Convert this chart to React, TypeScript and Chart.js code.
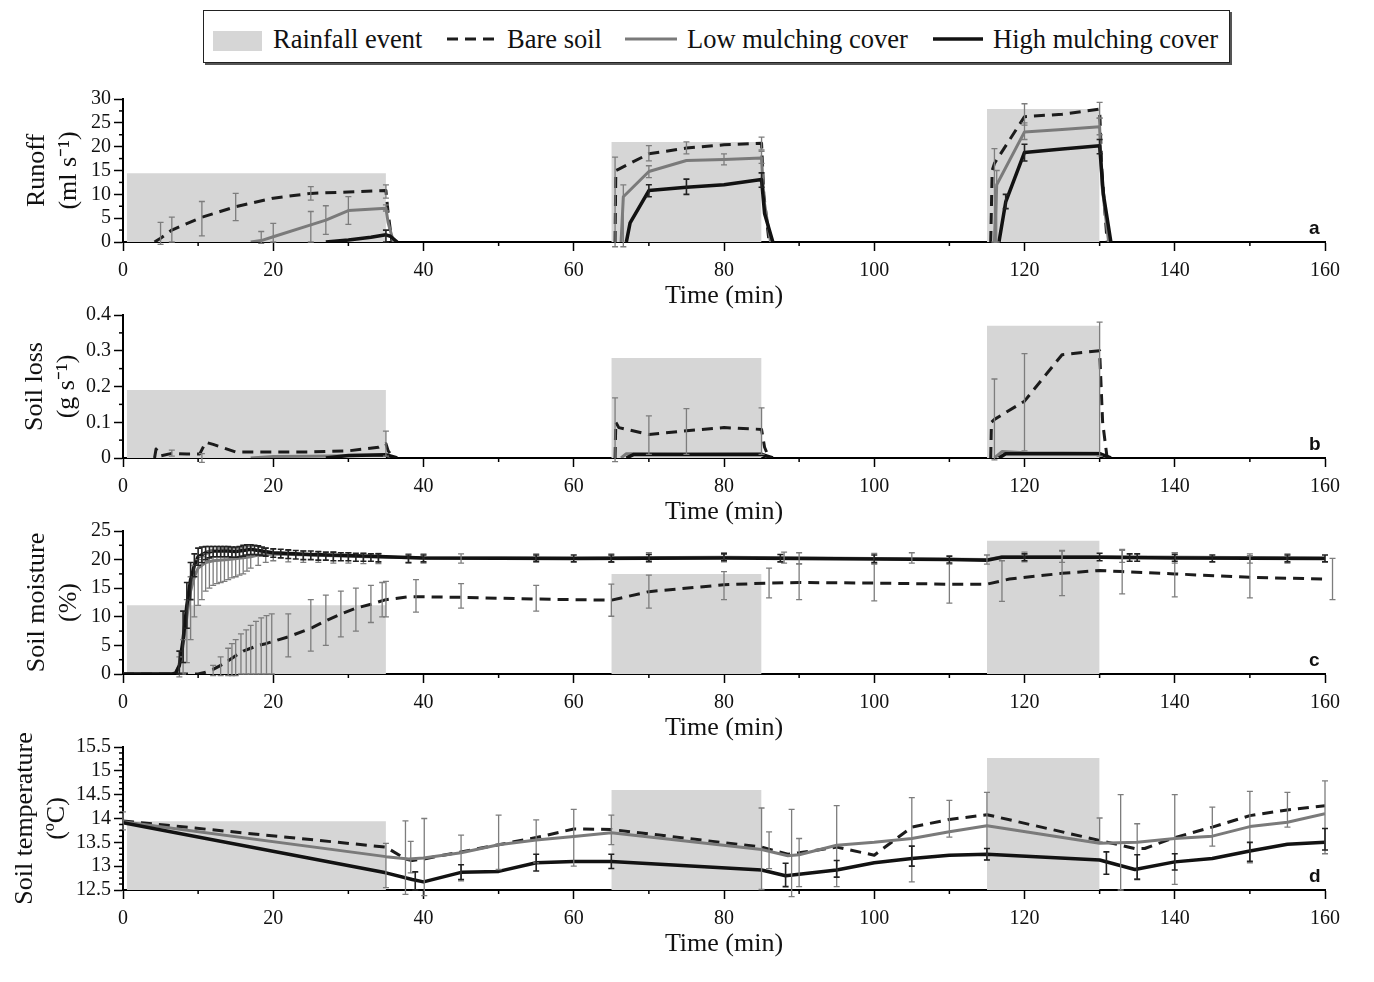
import React, { useEffect, useRef } from "react";
import { Chart, registerables } from "chart.js";
Chart.register(...registerables);

const SERIF = "'Liberation Serif', 'Times New Roman', serif";
const SANS = "'Liberation Sans', Arial, sans-serif";

type Pt = [number, number] | null;
type Err = [number, number, number];

// ---------------- rainfall events ----------------
const rainStart = [0.5, 65, 115];
const rainEnd = [35, 85, 130];
const rainTopRunoff = [14.4, 21.0, 27.9];
const rainTopLoss = [0.19, 0.28, 0.37];
const rainTopMoisture = [12.0, 17.5, 23.3];
const rainTopTemp = [13.94, 14.6, 15.27];

// ---------------- x axis ----------------
const timeMin = 0;
const timeMax = 160;
const timeStep = 10;
const timeLabelEvery = 20;

// ---------------- (a) runoff ----------------
const runoffBare: Pt[] = [
  [4.2, 0], [5, 0.8], [6.5, 2.5], [10.5, 5.2], [15, 7.4], [20, 9.2], [25, 10.2], [30, 10.5], [35, 10.8], [35.3, 6], [35.8, 0], null,
  [65.5, 0], [65.6, 15], [66, 15.3], [70, 18.5], [75, 19.7], [80, 20.4], [85, 20.7], [85.3, 10], [86, 0], null,
  [115.5, 0], [115.7, 15], [116, 16.5], [120, 26.3], [125, 26.8], [130, 27.9], [130.3, 15], [131, 0],
];
const runoffLow: Pt[] = [
  [17, 0], [18.4, 0.3], [20, 1.1], [25, 3.6], [27, 4.6], [30, 6.6], [35, 7.1], [35.3, 4], [36, 0], null,
  [66.3, 0], [66.6, 9.5], [70, 14.8], [75, 17.1], [80, 17.3], [85, 17.6], [85.3, 9], [86.2, 0], null,
  [116, 0], [116.3, 12], [120, 23.1], [125, 23.6], [130, 24.2], [130.3, 12], [131.2, 0],
];
const runoffHigh: Pt[] = [
  [27, 0], [30, 0.4], [33, 1], [35, 1.5], [35.6, 1.2], [36.5, 0], null,
  [67, 0], [67.5, 4], [70, 10.8], [75, 11.5], [80, 12], [85, 13.1], [85.4, 6], [86.5, 0], null,
  [116.6, 0], [117.5, 8.4], [120, 18.8], [125, 19.5], [130, 20.2], [130.5, 10], [131.5, 0],
];
const runoffBareErr: Err[] = [
  [5, -0.5, 4.1], [6.5, 0, 5.2], [10.5, 1.3, 8.5], [15, 4.5, 10.2], [25, 8.8, 11.6], [35, 9.2, 12],
  [65.5, -1, 17.8], [70, 17, 20.2], [75, 18.5, 21], [85, 19.3, 22],
  [116, 0, 19.6], [120, 24.5, 29], [130, 26, 29.3],
];
const runoffLowErr: Err[] = [
  [18.4, -0.3, 2.2], [20, 0, 3.9], [25, 0, 6.4], [27, 1.6, 7.6], [30, 3.7, 9.5], [35, 6.5, 7.8],
  [66.6, -1, 12], [70, 13.5, 16], [80, 16.2, 18.5], [85, 16.5, 19],
  [116.3, 0, 15], [120, 21.5, 25], [130, 22.5, 26],
];
const runoffHighErr: Err[] = [
  [35, 0, 2.5], [70, 9.5, 12], [75, 10, 13.2], [85, 11.5, 14.5], [117.5, 7, 10], [120, 17, 20.5], [130, 18.5, 21.5],
];
const runoffTicks = { min: 0, max: 30, step: 2.5, labelEvery: 5 };

// ---------------- (b) soil loss ----------------
const lossBare: Pt[] = [
  [4.2, 0], [4.4, 0.025], [5, 0.006], [6.5, 0.013], [8.5, 0.011], [10.2, 0.011], [11, 0.044], [12, 0.038], [15, 0.017],
  [20, 0.017], [25, 0.017], [30, 0.02], [34, 0.03], [35, 0.04], [35.3, 0.02], [36, 0], null,
  [65.5, 0], [65.6, 0.1], [66, 0.085], [70, 0.066], [75, 0.076], [80, 0.085], [85, 0.08], [85.4, 0.03], [86, 0], null,
  [115.5, 0], [115.6, 0.1], [116, 0.108], [120, 0.159], [125, 0.289], [130, 0.3], [130.4, 0.1], [131, 0],
];
const lossLow: Pt[] = [
  [17, 0], [20, 0.004], [25, 0.005], [30, 0.006], [35, 0.008], [36, 0], null,
  [66.3, 0], [67, 0.012], [75, 0.011], [85, 0.012], [86, 0], null,
  [116, 0], [117, 0.018], [120, 0.015], [130, 0.013], [131, 0],
];
const lossHigh: Pt[] = [
  [27, 0], [30, 0.007], [35, 0.009], [36.5, 0], null,
  [67, 0], [68, 0.01], [75, 0.01], [85, 0.01], [86.5, 0], null,
  [116.6, 0], [117.5, 0.012], [125, 0.012], [130, 0.012], [131.5, 0],
];
const lossBareErr: Err[] = [
  [6.5, 0.005, 0.022], [10.5, -0.012, 0.012], [35, 0.005, 0.075],
  [65.5, -0.01, 0.168], [70, 0.01, 0.118], [75, 0.01, 0.138], [85, 0.01, 0.14],
  [116, -0.005, 0.221], [120, 0.02, 0.292], [130, 0.005, 0.38],
];
const lossLowErr: Err[] = [];
const lossHighErr: Err[] = [];
const lossTicks = { min: 0, max: 0.4, step: 0.05, labelEvery: 0.1 };

// ---------------- (c) soil moisture ----------------
const moistBare: Pt[] = [
  [0, 0], [10, 0], [11, 0.3], [12, 0.8], [13, 1.5], [14, 2.3], [15, 3.2], [16, 4], [17, 4.5], [18, 5], [19, 5.3],
  [20, 5.7], [22, 6.5], [25, 8], [27, 9.3], [29, 10.5], [31, 11.5], [33, 12.2], [35, 13], [38, 13.5], [40, 13.5],
  [45, 13.4], [55, 13.1], [65, 12.9], [70, 14.4], [80, 15.6], [86, 15.9], [90, 16], [100, 15.9], [110, 15.7],
  [115, 15.7], [118, 16.6], [125, 17.6], [130, 18.1], [133, 17.9], [140, 17.5], [150, 16.9], [160, 16.6],
];
const moistLow: Pt[] = [
  [0, 0], [6.5, 0], [7, 0.3], [7.5, 1.5], [8, 5], [8.5, 10], [9, 14.5], [9.5, 17], [10, 18.5], [11, 19.5], [12, 19.8],
  [14, 20], [16, 20.3], [17, 20.5], [18, 20.8], [20, 21], [25, 20.8], [30, 20.6], [35, 20.4], [40, 20.3], [60, 20.3],
  [80, 20.4], [100, 20.2], [115, 20.0], [117, 20.5], [130, 20.5], [160, 20.3],
];
const moistHigh: Pt[] = [
  [0, 0], [6.5, 0], [7, 0.1], [7.5, 1.5], [8, 6], [8.5, 12], [9, 16.5], [9.5, 19], [10, 20.5], [11, 21.2], [12, 21.5],
  [14, 21.5], [15, 21.4], [16, 21.6], [17, 21.8], [18, 21.6], [20, 21.2], [25, 20.9], [30, 20.7], [35, 20.5], [40, 20.3],
  [60, 20.2], [80, 20.3], [100, 20.1], [110, 20], [115, 19.9], [117, 20.4], [130, 20.4], [140, 20.3], [160, 20.2],
];
const moistBareErr: Err[] = [
  [12, -0.3, 1.5], [13, -0.3, 3], [14, -0.3, 4.5], [14.5, -0.3, 5.3], [15, -0.3, 6], [15.7, 0, 7], [16.4, 0, 7.7],
  [17, 0, 8.5], [17.7, 0, 9.2], [18.4, 0, 9.8], [19.1, 0, 10.2], [19.8, 0, 10.5], [22, 3, 10.5], [25, 4, 13],
  [27, 5, 13.8], [29, 6.5, 14.5], [31, 7.5, 15], [33, 9, 15.5], [34.5, 10, 16], [35, 10, 16.2], [39, 10.8, 16.5],
  [45, 11.5, 15.8], [55, 11, 15.5], [65, 10.1, 15.7], [70, 11.5, 17.3], [80, 13, 17.9], [86, 13.3, 18.5],
  [90, 13, 19.2], [100, 12.8, 19.2], [110, 12.4, 19.2], [117, 12.7, 19.8], [125, 13.7, 21.6], [133, 14, 21.8],
  [140, 13.5, 21.2], [150, 13.3, 20.7], [161, 13, 20.2],
];
const moistLowErr: Err[] = [
  [7.5, -0.5, 3], [8, 0, 6], [8.5, 2, 13], [9, 6, 17], [9.5, 10, 19], [10, 12, 20], [10.5, 13, 20.5], [11, 14.5, 21],
  [11.5, 15, 21.5], [12, 15.5, 21.8], [12.5, 15.8, 21.8], [13, 16, 22], [13.5, 16.2, 22], [14, 16.5, 22],
  [14.5, 16.8, 22], [15, 17, 22], [15.5, 17.3, 22], [16, 17.5, 22.2], [16.5, 18, 22.3], [17, 18.5, 22.3],
  [18, 19, 22.3], [19, 19.5, 22], [20, 19.8, 21.8], [22, 19.6, 21.6], [24, 19.5, 21.5], [26, 19.5, 21.4],
  [28, 19.4, 21.3], [30, 19.4, 21.2], [32, 19.3, 21.1], [34, 19.3, 21.1], [38, 19.4, 21], [40, 19.4, 21],
  [45, 19.4, 21], [55, 19.5, 21], [65, 19.5, 21], [70, 19.5, 21.2], [80, 19.6, 21.2], [88, 19.4, 21.3],
  [90, 19.3, 21.2], [100, 19.3, 21.1], [105, 19.4, 21.2], [115, 19.2, 20.8], [120, 19.6, 21.3], [125, 19.5, 21.5],
  [133, 19.5, 21.6], [140, 19.4, 21.2], [150, 19.4, 21], [155, 19.4, 21],
];
const moistHighErr: Err[] = [
  [7.5, 0, 4], [8, 2, 11], [8.5, 8, 16], [9, 13, 19.5], [9.5, 17, 21], [10, 19, 22], [10.5, 19.5, 22.2],
  [11, 20, 22.3], [11.5, 20.3, 22.3], [12, 20.5, 22.3], [12.5, 20.5, 22.3], [13, 20.5, 22.3], [13.5, 20.5, 22.3],
  [14, 20.5, 22.3], [14.5, 20.4, 22.2], [15, 20.4, 22.2], [15.5, 20.5, 22.3], [16, 20.6, 22.5], [16.5, 20.8, 22.6],
  [17, 20.9, 22.6], [17.5, 20.9, 22.5], [18, 20.8, 22.4], [18.5, 20.7, 22.2], [19, 20.6, 22], [20, 20.4, 21.9],
  [21, 20.3, 21.8], [22, 20.2, 21.7], [23, 20.1, 21.6], [24, 20, 21.5], [25, 20, 21.5], [26, 19.9, 21.4],
  [27, 19.9, 21.3], [28, 19.8, 21.3], [29, 19.8, 21.2], [30, 19.8, 21.2], [31, 19.7, 21.1], [32, 19.7, 21.1],
  [33, 19.7, 21], [34, 19.6, 21], [38, 19.5, 20.8], [40, 19.6, 20.8], [55, 19.7, 20.8], [60, 19.6, 20.8],
  [65, 19.6, 20.8], [70, 19.7, 20.9], [80, 19.8, 21], [87.5, 19.6, 20.9], [100, 19.5, 20.8], [110, 19.4, 20.6],
  [120, 19.8, 21], [130, 19.8, 21.1], [134, 19.7, 21], [135, 19.7, 21], [140, 19.7, 20.9], [145, 19.6, 20.8],
  [155, 19.6, 20.8], [160, 19.6, 20.8],
];
const moistTicks = { min: 0, max: 25, step: 2.5, labelEvery: 5 };

// ---------------- (d) soil temperature ----------------
const tempBare: Pt[] = [
  [0, 13.95], [35, 13.4], [37.6, 13.15], [38.5, 13.12], [40, 13.15], [45, 13.3], [50, 13.45], [55, 13.6], [60, 13.78],
  [65, 13.77], [85, 13.4], [88.5, 13.25], [90, 13.28], [95, 13.4], [100, 13.23], [105, 13.82], [110, 13.98],
  [115, 14.08], [130, 13.54], [134.7, 13.37], [136, 13.37], [140, 13.6], [145, 13.82], [150, 14.06], [155, 14.18],
  [160, 14.27],
];
const tempLow: Pt[] = [
  [0, 13.93], [35, 13.2], [38, 13.15], [40, 13.17], [45, 13.28], [50, 13.45], [55, 13.55], [60, 13.62], [65, 13.7],
  [85, 13.35], [88.5, 13.22], [90, 13.24], [95, 13.44], [100, 13.5], [105, 13.58], [110, 13.72], [115, 13.85],
  [130, 13.48], [135, 13.5], [140, 13.58], [145, 13.63], [150, 13.83], [155, 13.92], [160, 14.1],
];
const tempHigh: Pt[] = [
  [0, 13.91], [35, 12.86], [38.5, 12.72], [40, 12.67], [45, 12.87], [50, 12.89], [55, 13.07], [60, 13.1], [65, 13.1],
  [85, 12.92], [88.2, 12.8], [90, 12.83], [95, 12.92], [100, 13.07], [105, 13.16], [110, 13.23], [115, 13.25],
  [130, 13.13], [134.7, 12.93], [140, 13.09], [145, 13.16], [150, 13.32], [155, 13.46], [160, 13.5],
];
const tempBareErr: Err[] = [
  [0, 13.76, 14.14], [35, 12.55, 13.48], [37.6, 12.41, 13.95], [38.3, 12.86, 13.52], [40.1, 12.38, 14.0],
  [45, 12.69, 13.65], [50, 12.93, 14.07], [55, 13.07, 13.97], [60, 13.0, 14.19], [65, 13.45, 14.07],
  [85, 12.51, 14.22], [86, 12.95, 13.72], [89, 12.36, 14.19], [90, 12.57, 13.58], [95, 12.57, 14.27],
  [105, 12.67, 14.44], [110, 13.61, 14.38], [115, 13.13, 14.55], [130, 13.51, 14.01], [132.8, 12.5, 14.5],
  [135, 12.74, 13.89], [140, 12.62, 14.5], [145, 13.42, 14.24], [150, 13.07, 14.57], [155, 13.82, 14.55],
  [160, 13.26, 14.79],
];
const tempLowErr: Err[] = [];
const tempHighErr: Err[] = [
  [38.9, 12.5, 12.88], [45, 12.72, 13.03], [55, 12.9, 13.25], [65, 12.95, 13.25], [88.2, 12.57, 13.06],
  [95, 12.77, 13.12], [105, 13.0, 13.42], [115, 13.13, 13.37], [130.9, 12.83, 13.3], [135, 12.72, 13.24],
  [140, 12.92, 13.26], [150, 13.1, 13.5], [160, 13.34, 13.79],
];
const tempTicks = { min: 12.5, max: 15.5, step: 0.125, labelEvery: 0.5 };

// ---------------- legend / labels ----------------
const legendLabels = ["Rainfall event", "Bare soil", "Low mulching cover", "High mulching cover"];
const timeTitle = "Time (min)";

const COL_BARE = "#1c1c1c";
const COL_LOW = "#7a7a7a";
const COL_HIGH = "#121212";
const COL_RAIN = "#d6d6d6";
const COL_ERR = "#7d7d7d";

const MAJOR_TICK = 9;
const MINOR_TICK = 4;

function toXY(pts: Pt[]) {
  const out: { x: number; y: number | null }[] = [];
  let lastX = 0;
  for (const p of pts) {
    if (p === null) out.push({ x: lastX + 0.01, y: null });
    else {
      out.push({ x: p[0], y: p[1] });
      lastX = p[0];
    }
  }
  return out;
}

function isMultiple(v: number, m: number) {
  const r = Math.round((v / m) * 1000) / 1000;
  return Math.abs(r - Math.round(r)) < 1e-6;
}

function errPlugin(sets: { data: Err[]; color: string; width: number }[]) {
  return {
    id: "errbars",
    afterDatasetsDraw(chart: any) {
      const { ctx, scales } = chart;
      const xs = scales.x;
      const ys = scales.y;
      sets.forEach((set) => {
        ctx.save();
        ctx.strokeStyle = set.color;
        ctx.lineWidth = set.width;
        set.data.forEach(([t, lo, hi]) => {
          const px = xs.getPixelForValue(t);
          const p1 = ys.getPixelForValue(lo);
          const p2 = ys.getPixelForValue(hi);
          ctx.beginPath();
          ctx.moveTo(px, p1);
          ctx.lineTo(px, p2);
          ctx.moveTo(px - 3, p1);
          ctx.lineTo(px + 3, p1);
          ctx.moveTo(px - 3, p2);
          ctx.lineTo(px + 3, p2);
          ctx.stroke();
        });
        ctx.restore();
      });
    },
  };
}

// short minor tick marks, drawn at the scale's own tick positions
const minorTickPlugin = {
  id: "minorTicks",
  afterDraw(chart: any) {
    const { ctx, chartArea } = chart;
    ctx.save();
    ctx.strokeStyle = "#000";
    ctx.lineWidth = 1.5;
    ["x", "y"].forEach((id) => {
      const sc = chart.scales[id];
      const every = sc.options.ticks.majorEvery;
      sc.ticks.forEach((t: any) => {
        if (isMultiple(t.value, every)) return;
        const p = sc.getPixelForValue(t.value);
        ctx.beginPath();
        if (id === "x") {
          ctx.moveTo(p, chartArea.bottom);
          ctx.lineTo(p, chartArea.bottom + MINOR_TICK);
        } else {
          ctx.moveTo(chartArea.left - MINOR_TICK, p);
          ctx.lineTo(chartArea.left, p);
        }
        ctx.stroke();
      });
    });
    ctx.restore();
  },
};

type PanelDef = {
  top: number;
  bare: Pt[];
  low: Pt[];
  high: Pt[];
  bareErr: Err[];
  lowErr: Err[];
  highErr: Err[];
  rainTop: number[];
  ticks: { min: number; max: number; step: number; labelEvery: number };
  yTitle: string[];
  titlePad: number;
};

const AREA_PAD_TOP = 14;
const X_AXIS_H = 80;
const AREA_H = 144;
const CANVAS_H = AREA_PAD_TOP + AREA_H + X_AXIS_H;

function Panel({ def }: { def: PanelDef }) {
  const ref = useRef<HTMLCanvasElement | null>(null);
  useEffect(() => {
    if (!ref.current) return;
    const line = (data: Pt[], color: string, width: number, dash: number[]) => ({
      data: toXY(data),
      borderColor: color,
      backgroundColor: color,
      borderWidth: width,
      borderDash: dash,
      pointRadius: 0,
      tension: 0,
      spanGaps: false,
      fill: false,
      borderCapStyle: "butt",
      borderJoinStyle: "round",
    });
    const datasets: any[] = [
      line(def.high, COL_HIGH, 3.5, []),
      line(def.low, COL_LOW, 3, []),
      line(def.bare, COL_BARE, 3, [11, 7]),
    ];
    rainStart.forEach((s, i) => {
      datasets.push({
        data: [
          { x: s, y: def.ticks.min },
          { x: s, y: def.rainTop[i] },
          { x: rainEnd[i], y: def.rainTop[i] },
          { x: rainEnd[i], y: def.ticks.min },
        ],
        borderWidth: 0,
        borderColor: "rgba(0,0,0,0)",
        backgroundColor: COL_RAIN,
        fill: "start",
        pointRadius: 0,
        tension: 0,
      });
    });
    const tickFont = { family: SERIF, size: 20 };
    const gridCfg = (every: number) => ({
      drawOnChartArea: false,
      drawTicks: true,
      tickLength: MAJOR_TICK,
      tickColor: (c: any) => (c.tick && isMultiple(c.tick.value, every) ? "#000" : "rgba(0,0,0,0)"),
      tickWidth: 1.5,
    });
    const chart = new Chart(ref.current, {
      type: "line",
      data: { datasets },
      options: {
        animation: false,
        responsive: false,
        maintainAspectRatio: false,
        events: [],
        layout: { padding: { top: AREA_PAD_TOP, right: 49, bottom: 0, left: 0 } },
        plugins: { legend: { display: false }, tooltip: { enabled: false } },
        scales: {
          x: {
            type: "linear",
            min: timeMin,
            max: timeMax,
            afterFit: (s: any) => {
              s.height = X_AXIS_H;
            },
            ticks: {
              stepSize: timeStep,
              majorEvery: timeLabelEvery,
              autoSkip: false,
              maxRotation: 0,
              padding: 8,
              color: "#111",
              font: tickFont,
              callback: (v: any) => (isMultiple(Number(v), timeLabelEvery) ? String(v) : ""),
            },
            grid: gridCfg(timeLabelEvery),
            border: { display: true, color: "#000", width: 2 },
            title: {
              display: true,
              text: timeTitle,
              color: "#111",
              font: { family: SERIF, size: 26, lineHeight: 1.2 },
              padding: { top: 0, bottom: 10 },
            },
          },
          y: {
            type: "linear",
            min: def.ticks.min,
            max: def.ticks.max,
            afterFit: (s: any) => {
              s.width = 123;
            },
            ticks: {
              stepSize: def.ticks.step,
              majorEvery: def.ticks.labelEvery,
              autoSkip: false,
              padding: 3,
              color: "#111",
              font: tickFont,
              callback: (v: any) => {
                const n = Math.round(Number(v) * 1000) / 1000;
                return isMultiple(n, def.ticks.labelEvery) ? String(n) : "";
              },
            },
            grid: gridCfg(def.ticks.labelEvery),
            border: { display: true, color: "#000", width: 2 },
            title: {
              display: true,
              text: def.yTitle,
              color: "#111",
              font: { family: SERIF, size: 26, lineHeight: 1.2 },
              padding: { top: def.titlePad, bottom: 0 },
            },
          },
        },
      } as any,
      plugins: [
        errPlugin([
          { data: def.bareErr, color: COL_ERR, width: 1.3 },
          { data: def.lowErr, color: COL_ERR, width: 1.3 },
          { data: def.highErr, color: "#222", width: 1.6 },
        ]),
        minorTickPlugin,
      ] as any,
    });
    return () => chart.destroy();
  }, [def]);
  return (
    <canvas
      ref={ref}
      width={1374}
      height={CANVAS_H}
      style={{ position: "absolute", left: 0, top: def.top - AREA_PAD_TOP, width: 1374, height: CANVAS_H }}
    />
  );
}

const panels: PanelDef[] = [
  {
    top: 98, bare: runoffBare, low: runoffLow, high: runoffHigh, bareErr: runoffBareErr, lowErr: runoffLowErr,
    highErr: runoffHighErr, rainTop: rainTopRunoff, ticks: runoffTicks, yTitle: ["Runoff", "(ml s\u207B\u00B9)"], titlePad: 22,
  },
  {
    top: 314, bare: lossBare, low: lossLow, high: lossHigh, bareErr: lossBareErr, lowErr: lossLowErr,
    highErr: lossHighErr, rainTop: rainTopLoss, ticks: lossTicks, yTitle: ["Soil loss", "(g s\u207B\u00B9)"], titlePad: 20,
  },
  {
    top: 530, bare: moistBare, low: moistLow, high: moistHigh, bareErr: moistBareErr, lowErr: moistLowErr,
    highErr: moistHighErr, rainTop: rainTopMoisture, ticks: moistTicks, yTitle: ["Soil moisture", "(%)"], titlePad: 22,
  },
  {
    top: 746, bare: tempBare, low: tempLow, high: tempHigh, bareErr: tempBareErr, lowErr: tempLowErr,
    highErr: tempHighErr, rainTop: rainTopTemp, ticks: tempTicks, yTitle: ["Soil temperature", "(\u00BAC)"], titlePad: 10,
  },
];

const panelLetters = ["a", "b", "c", "d"];

function Legend() {
  const text: React.CSSProperties = {
    position: "absolute",
    top: 23,
    fontFamily: SERIF,
    fontSize: 26.5,
    lineHeight: "32px",
    color: "#111",
    whiteSpace: "nowrap",
  };
  return (
    <div>
      <div
        style={{
          position: "absolute",
          left: 203,
          top: 10,
          width: 1025,
          height: 51,
          border: "1.5px solid #222",
          boxShadow: "2px 2px 0 #555",
          background: "#fff",
        }}
      />
      <div style={{ position: "absolute", left: 213, top: 31, width: 49, height: 20, background: COL_RAIN }} />
      <div style={{ ...text, left: 273 }}>{legendLabels[0]}</div>
      <svg style={{ position: "absolute", left: 447, top: 34 }} width={52} height={10}>
        <line x1={0} y1={5} x2={50} y2={5} stroke={COL_BARE} strokeWidth={3} strokeDasharray="11 7" />
      </svg>
      <div style={{ ...text, left: 507 }}>{legendLabels[1]}</div>
      <svg style={{ position: "absolute", left: 625, top: 34 }} width={54} height={10}>
        <line x1={0} y1={5} x2={52} y2={5} stroke={COL_LOW} strokeWidth={3} />
      </svg>
      <div style={{ ...text, left: 687 }}>{legendLabels[2]}</div>
      <svg style={{ position: "absolute", left: 933, top: 34 }} width={52} height={10}>
        <line x1={0} y1={5} x2={50} y2={5} stroke={COL_HIGH} strokeWidth={3.5} />
      </svg>
      <div style={{ ...text, left: 993 }}>{legendLabels[3]}</div>
    </div>
  );
}

export default function App() {
  return (
    <div style={{ position: "absolute", left: 0, top: 0, width: 1374, height: 982, background: "#fff", overflow: "hidden" }}>
      <Legend />
      {panels.map((p, i) => (
        <Panel key={i} def={p} />
      ))}
      {panels.map((p, i) => (
        <div
          key={"l" + i}
          style={{
            position: "absolute",
            left: 1309,
            top: p.top + AREA_H - 24,
            fontFamily: SANS,
            fontWeight: "bold",
            fontSize: 19,
            lineHeight: "19px",
            color: "#111",
          }}
        >
          {panelLetters[i]}
        </div>
      ))}
    </div>
  );
}
